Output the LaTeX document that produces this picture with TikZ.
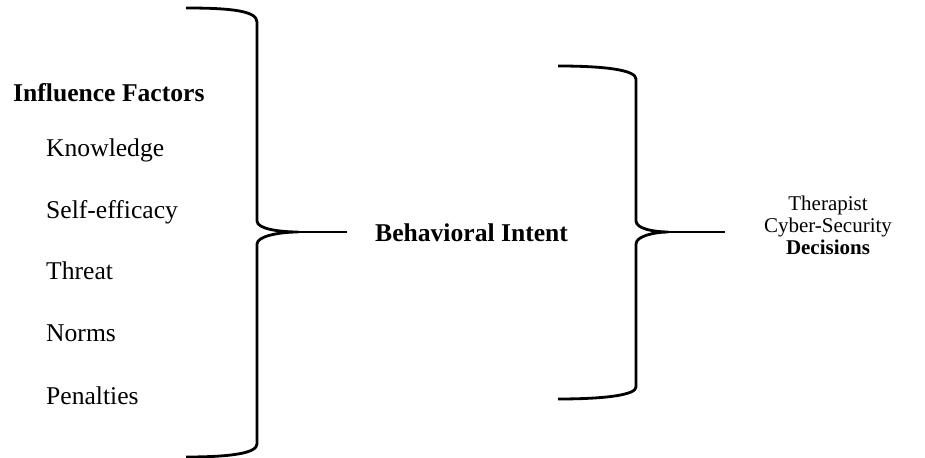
\documentclass[tikz,border=0pt]{standalone}
\usepackage{fontspec}
\setmainfont{Liberation Serif}
\begin{document}
\begin{tikzpicture}[x=1bp,y=-1bp,
  bracestyle/.style={line width=2.8bp,line cap=butt,line join=round},
  bigtxt/.style={font=\fontsize{25.6bp}{30bp}\selectfont,inner sep=0pt},
  smalltxt/.style={font=\fontsize{21bp}{25bp}\selectfont,inner sep=0pt}]
\useasboundingbox (0,0) rectangle (925,458);
% left brace
\coordinate (ltip) at (298,232);
\coordinate (lend) at (347,232);
\draw[bracestyle] (186,8) .. controls (232,8) and (257,11) .. (257,22)
  -- (257,221) .. controls (257,229) and (280,232) .. (ltip)
  .. controls (280,232) and (257,236) .. (257,244)
  -- (257,444) .. controls (257,453) and (232,457) .. (186,457);
\draw[bracestyle] (ltip) -- (lend);
% right brace
\coordinate (rtip) at (668,232);
\coordinate (rend) at (725,232);
\draw[bracestyle] (558,66) .. controls (605,66) and (636,70) .. (636,79)
  -- (636,221) .. controls (636,229) and (655,232) .. (rtip)
  .. controls (655,232) and (636,236) .. (636,244)
  -- (636,387) .. controls (636,395) and (605,399) .. (558,399);
\draw[bracestyle] (rtip) -- (rend);
% texts
\node[bigtxt,anchor=base west] (if) at (13,102) {\textbf{Influence Factors}};
\node[bigtxt,anchor=base west] (kn) at (46,157) {Knowledge};
\node[bigtxt,anchor=base west] (se) at (46,219) {Self-efficacy};
\node[bigtxt,anchor=base west] (th) at (46,280) {Threat};
\node[bigtxt,anchor=base west] (no) at (46,342) {Norms};
\node[bigtxt,anchor=base west] (pe) at (46,404) {Penalties};
\node[bigtxt,anchor=base west] (bi) at (375,242) {\textbf{Behavioral Intent}};
\node[smalltxt,anchor=base] (t1) at (828,211) {Therapist};
\node[smalltxt,anchor=base] (t2) at (828,233) {Cyber-Security};
\node[smalltxt,anchor=base] (t3) at (828,255) {\textbf{Decisions}};
\end{tikzpicture}
\end{document}
